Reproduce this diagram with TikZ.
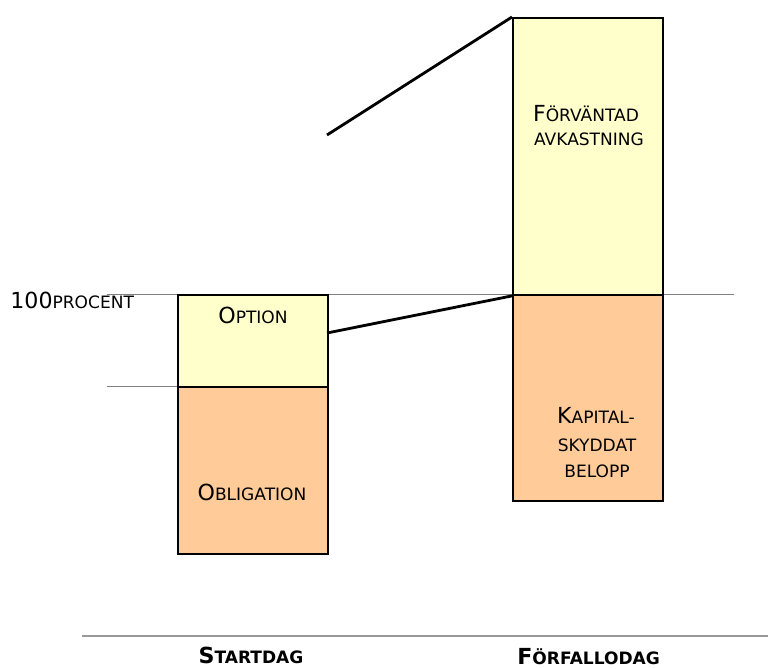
\documentclass[tikz,border=0pt]{standalone}
\usepackage{fontspec}
\setmainfont{DejaVu Sans}
\usepackage{tikz}
\usetikzlibrary{positioning}
\definecolor{gul}{HTML}{FFFFCC}
\definecolor{orange}{HTML}{FFCC99}
\newcommand{\stor}{\fontsize{12.6}{15}\selectfont}
\newcommand{\liten}{\fontsize{9.7}{12}\selectfont}
\newcommand{\kap}[2]{{\stor #1}{\liten #2}}
\tikzstyle{stapel} = [rectangle, draw=black, line width=1.1pt, minimum width=3cm, inner sep=0pt]
\tikzstyle{hjalp} = [draw=gray, line width=0.5pt]
\tikzstyle{linje} = [-, draw=black, line width=1.6pt]
\tikzstyle{txt} = [inner sep=0pt, anchor=base]

\begin{document}
\begin{tikzpicture}[x=0.02cm, y=-0.02cm]
\useasboundingbox (0, 0) rectangle (768, 669);
\draw [hjalp] (107, 294) -- (734, 294);
\draw [hjalp] (107, 386) -- (177, 386);
\draw [draw=gray!80, line width=0.9pt] (82, 636) -- (768, 636);
\node [stapel, fill=gul, minimum height=1.84cm, anchor=north west] (opt) at (177, 294) {};
\node [stapel, fill=orange, minimum height=3.34cm, anchor=north west] (obl) at (177, 386) {};
\node [stapel, fill=gul, minimum height=5.54cm, anchor=north west] (avk) at (512, 17) {};
\node [stapel, fill=orange, minimum height=4.12cm, anchor=north west] (bel) at (512, 294) {};
\coordinate (a) at (327, 135);
\coordinate (b) at (327, 333);
\draw [linje] (a) to (avk.north west);
\draw [linje] (b) to (avk.south west);
\node [txt, anchor=base west] (proc) at (10, 308) {{\stor 100}{\liten PROCENT}};
\node [txt] (optt) at (253, 323) {\kap{O}{PTION}};
\node [txt] (oblt) at (252, 500) {\kap{O}{BLIGATION}};
\node [txt] (avkt1) at (586, 122) {\kap{F}{ÖRVÄNTAD}};
\node [txt] (avkt2) at (589, 146) {\liten AVKASTNING};
\node [txt] (belt1) at (596, 423) {\kap{K}{APITAL-}};
\node [txt] (belt2) at (597, 451) {\liten SKYDDAT};
\node [txt] (belt3) at (597, 477) {\liten BELOPP};
\node [txt, font=\bfseries] (start) at (251, 663) {\kap{S}{TARTDAG}};
\node [txt, font=\bfseries, anchor=base west] (forf) at (517, 664) {\kap{F}{ÖRFALLODAG}};
\end{tikzpicture}
\end{document}
